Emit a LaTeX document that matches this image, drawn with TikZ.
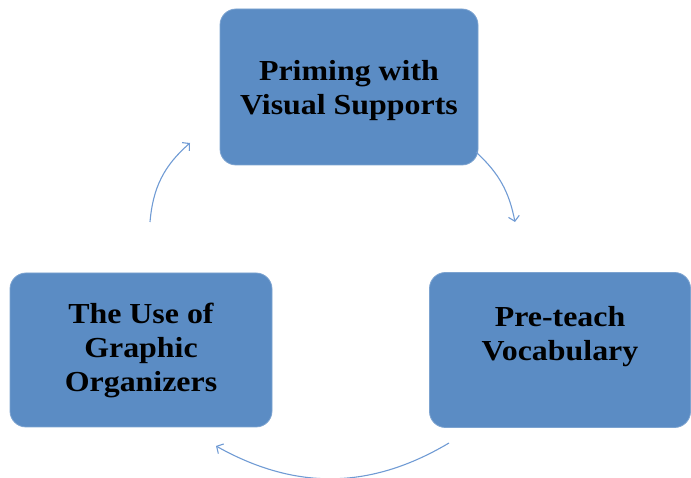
\documentclass[tikz,border=0pt]{standalone}
\usepackage{fontspec}
\setmainfont{Liberation Serif}[FakeStretch=1.1]
\usepackage{tikz}
\usetikzlibrary{arrows.meta}
\definecolor{boxblue}{RGB}{91,140,196}
\definecolor{arcblue}{RGB}{112,155,212}

\begin{document}
\begin{tikzpicture}[x=1pt, y=1pt,
    stage/.style={rectangle, rounded corners=16pt, fill=boxblue, draw=boxblue!80!white, line width=0.8pt,
        align=center, font=\fontsize{29}{34}\selectfont\bfseries, inner sep=0pt},
    cyc/.style={draw=arcblue, line width=1.1pt, -{Straight Barb[length=5pt, width=11pt]}}]
            \useasboundingbox (0,0) rectangle (691,478);
            \node[stage, minimum width=258pt, minimum height=156pt, text depth=-4pt] at (349, 391) (prime) {Priming with\\Visual Supports};
            \node[stage, minimum width=261pt, minimum height=155pt] at (560, 128) (vocab) {Pre-teach\\Vocabulary\\\mbox{}};
            \node[stage, minimum width=262pt, minimum height=154pt] at (141, 128) (graph) {The Use of\\Graphic\\Organizers};

            \coordinate (p1) at (476, 326);
            \coordinate (v1) at (515, 256);
            \coordinate (v2) at (449, 35);
            \coordinate (g1) at (216, 32);
            \coordinate (g2) at (150, 256);
            \coordinate (p2) at (190, 335);

            \draw [cyc] (p1) to[bend left=18] (v1);
            \draw [cyc] (v2) to[bend left=30] (g1);
            \draw [cyc] (g2) to[bend left=22] (p2);
        \end{tikzpicture}
\end{document}
